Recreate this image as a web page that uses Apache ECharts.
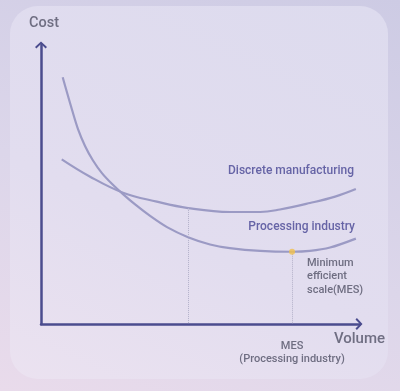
<!DOCTYPE html>
<html>
<head>
<meta charset="utf-8">
<script src="https://cdn.jsdelivr.net/npm/echarts@6/dist/echarts.min.js"></script>
<style>
  html, body { margin: 0; padding: 0; width: 400px; height: 391px; overflow: hidden; }
  body { background: linear-gradient(20deg, #e9dbeb 0%, #dcd6ea 45%, #cdcbe4 100%); position: relative; }
  #card { position: absolute; left: 10px; top: 6px; width: 378px; height: 373px; border-radius: 28px;
          background: linear-gradient(25deg, #ebe2f0 0%, #e2ddef 40%, #dddbee 100%); }
  #chart { position: absolute; left: 0; top: 0; width: 400px; height: 391px; }
</style>
</head>
<body>
<div id="card"></div>
<div id="chart"></div>
<script>
// Volume (x) and Cost (y) in arbitrary units, 0..100
const processingX = [6.8, 8.2, 9.7, 11.6, 13.8, 16.3, 19.1, 22.3, 25.7, 29.5, 34.2, 39.5, 46.1, 53.0, 59.2, 68.7, 78.7, 84.3, 90.6, 98.7];
const processingY = [88.1, 82.5, 76.6, 69.6, 63.6, 58.4, 53.9, 50.0, 46.4, 42.7, 38.6, 34.6, 31.0, 28.4, 27.1, 26.1, 25.8, 26.1, 27.3, 30.5];
const discreteX = [6.5, 15.4, 25.7, 36.3, 46.1, 59.2, 68.7, 74.9, 84.3, 92.2, 98.7];
const discreteY = [58.8, 52.6, 46.9, 43.7, 41.4, 40.0, 40.0, 40.9, 43.2, 45.5, 48.2];
const mesPoint = [78.7, 25.8];
const discreteDrop = [46.1, 41.4];
const seriesNames = ['Discrete manufacturing', 'Processing industry'];
const mesLabel = 'MES\n(Processing industry)';
const mesNote = 'Minimum\nefficient\nscale(MES)';

const zip = (xs, ys) => xs.map((x, i) => [x, ys[i]]);
const curveColor = '#9b9ac4';
const axisColor = '#4b4c8e';
const grayText = '#6f6e82';
const chevron = 'path://M6,0 L12,5.6 L10.6,7 L6,2.6 L1.4,7 L0,5.6 Z';
const font = 'Roboto';

const chart = echarts.init(document.getElementById('chart'));
chart.setOption({
  animation: false,
  backgroundColor: 'transparent',
  grid: { left: 41, right: 40, top: 44, bottom: 67 },
  xAxis: {
    type: 'value', min: 0, max: 100,
    axisLine: { show: true, symbol: ['none', chevron], symbolSize: [12, 7], symbolOffset: [0, -1],
                lineStyle: { color: axisColor, width: 2.5 } },
    axisTick: { show: false },
    splitLine: { show: false },
    axisLabel: { show: true, customValues: [mesPoint[0]], formatter: () => mesLabel,
                 margin: 15, fontSize: 11, fontWeight: 500, lineHeight: 13.5, color: grayText, fontFamily: font }
  },
  yAxis: {
    type: 'value', min: 0, max: 100,
    axisLine: { show: true, symbol: ['none', chevron], symbolSize: [12, 7], symbolOffset: [0, -1],
                lineStyle: { color: axisColor, width: 2.5 } },
    axisTick: { show: false },
    splitLine: { show: false },
    axisLabel: { show: false }
  },
  graphic: [
    { type: 'text', left: 29, top: 16, style: { text: 'Cost', fontSize: 14.5, fontWeight: 500, fill: grayText, fontFamily: font } },
    { type: 'text', right: 15, top: 332, style: { text: 'Volume', fontSize: 15, fontWeight: 500, fill: grayText, fontFamily: font } },
    { type: 'text', right: 46, top: 165, style: { text: seriesNames[0], fontSize: 12, fontWeight: 500, fill: '#6664a6', fontFamily: font } },
    { type: 'text', right: 45, top: 221, style: { text: seriesNames[1], fontSize: 12, fontWeight: 500, fill: '#6664a6', fontFamily: font } },
    { type: 'text', left: 307, top: 256, style: { text: mesNote, fontSize: 11, fontWeight: 500, lineHeight: 13.5, fill: grayText, fontFamily: font } }
  ],
  series: [
    {
      name: seriesNames[0], type: 'line', smooth: 0.4, showSymbol: false, silent: true,
      data: zip(discreteX, discreteY),
      lineStyle: { color: curveColor, width: 2.2 },
      markLine: {
        symbol: 'none', silent: true, label: { show: false },
        lineStyle: { color: '#b3b1c9', width: 1, type: 'dotted' },
        data: [[{ coord: discreteDrop }, { coord: [discreteDrop[0], 0] }]]
      }
    },
    {
      name: seriesNames[1], type: 'line', smooth: 0.3, showSymbol: false, silent: true,
      data: zip(processingX, processingY),
      lineStyle: { color: curveColor, width: 2.2 },
      markLine: {
        symbol: 'none', silent: true, label: { show: false },
        lineStyle: { color: '#b3b1c9', width: 1, type: 'dotted' },
        data: [[{ coord: mesPoint }, { coord: [mesPoint[0], 0] }]]
      }
    },
    {
      type: 'scatter', silent: true, z: 5,
      data: [mesPoint], symbolSize: 6,
      itemStyle: { color: '#f1c04c' }
    }
  ]
});
</script>
</body>
</html>
